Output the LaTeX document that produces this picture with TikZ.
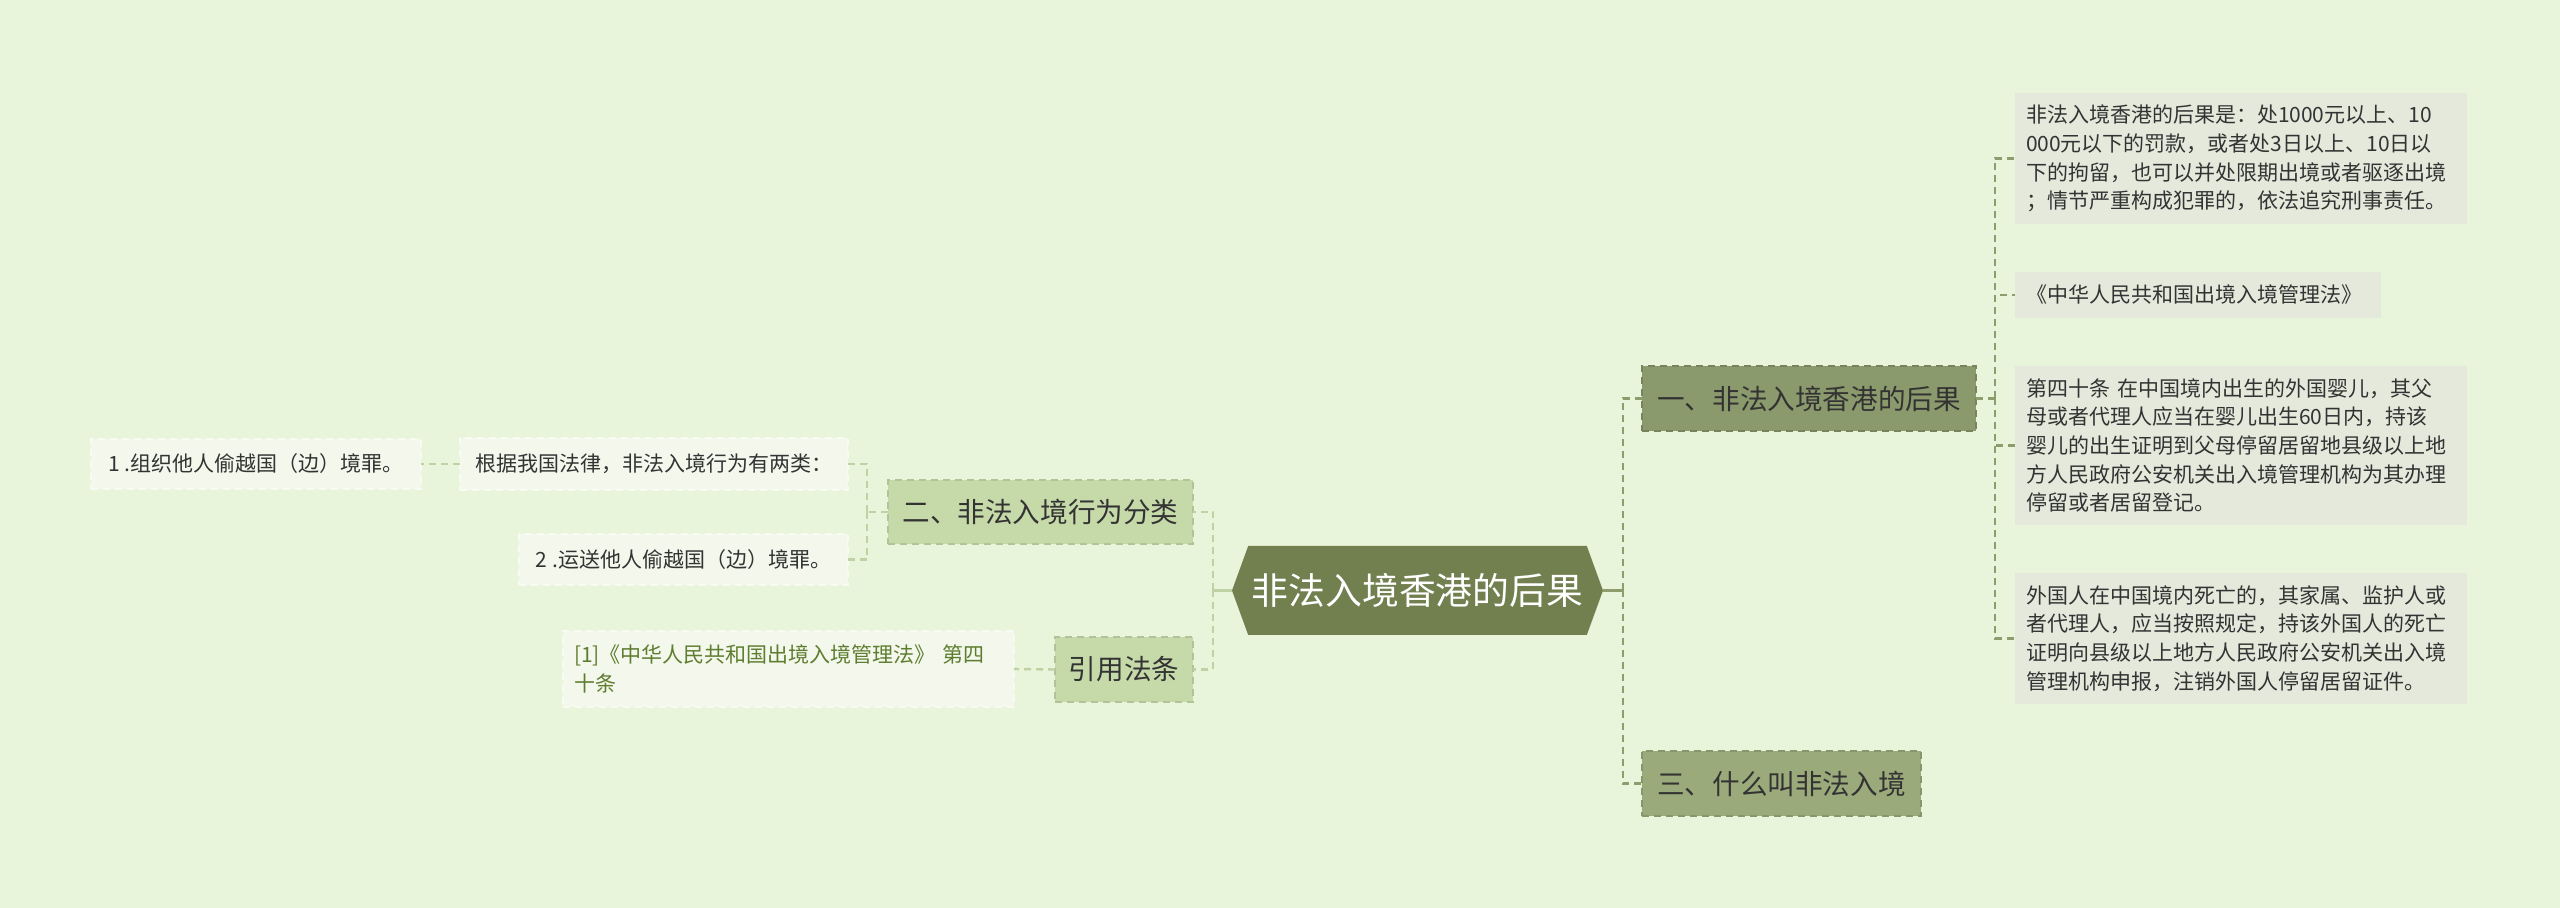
\documentclass[tikz,border=0pt]{standalone}
\usepackage{fontspec}
\setmainfont{Noto Sans CJK SC}
\usepackage{tikz}
\usetikzlibrary{shapes.symbols}
\definecolor{bgcol}{HTML}{E8F5DB}
\definecolor{rootcol}{HTML}{727F4F}
\definecolor{onecol}{HTML}{8B9A6C}
\definecolor{threecol}{HTML}{9BAA7A}
\definecolor{twocol}{HTML}{C6D9A9}
\definecolor{rleafcol}{HTML}{E4E9DC}
\definecolor{lleafcol}{HTML}{F3F7EC}
\definecolor{reftext}{HTML}{5E7D2F}
\definecolor{darkline}{HTML}{8E9D6E}
\definecolor{lightline}{HTML}{BFD2A3}

\begin{document}
\begin{tikzpicture}[x=0.5pt,y=-0.5pt,line width=1.2pt,
  every node/.style={inner sep=0pt,outer sep=0pt,text=black!80},
  dashline/.style={dash pattern=on 3.5pt off 2.5pt}]
		\tikzstyle{topic}=[draw,dashline,line width=1pt,minimum height=32.5pt,font=\fontsize{13.8}{16}\selectfont]
		\tikzstyle{leaf}=[align=left,font=\fontsize{10.5}{14.35}\selectfont]
		\tikzstyle{rleaf}=[leaf,fill=rleafcol,anchor=west,inner xsep=5.5pt,text width=215pt]
		\tikzstyle{lleaf}=[leaf,fill=lleafcol,draw=lleafcol!60!white,line width=1pt,dashline]
		\fill[bgcol] (0,0) rectangle (2560,908);
		\useasboundingbox (0,0) rectangle (2560,908);
		% root and main topics
		\node[signal,signal to=east and west,signal pointer angle=140,fill=rootcol,text=white,
		  minimum width=185.5pt,minimum height=44.5pt,font=\fontsize{18.4}{22}\selectfont] (root) at (1417.5,590.5) {非法入境香港的后果};
		\node[topic,fill=onecol,draw=onecol!85!black,minimum width=167pt] (one) at (1809,398.5) {一、非法入境香港的后果};
		\node[topic,fill=threecol,draw=threecol!88!black,minimum width=139.5pt] (three) at (1781.5,783.5) {三、什么叫非法入境};
		\node[topic,fill=twocol,draw=twocol!90!black,minimum width=152.5pt,minimum height=32pt] (two) at (1040.5,512) {二、非法入境行为分类};
		\node[topic,fill=twocol,draw=twocol!90!black,minimum width=69pt] (cite) at (1124,669.5) {引用法条};
		% right leaves
		\node[rleaf,minimum height=65.5pt] (conseq) at (2015,158.5) {非法入境香港的后果是：处1000元以上、10\\000元以下的罚款，或者处3日以上、10日以\\下的拘留，也可以并处限期出境或者驱逐出境\\；情节严重构成犯罪的，依法追究刑事责任。};
		\node[rleaf,text width=172pt,minimum height=23pt] (lawname) at (2015,295) {《中华人民共和国出境入境管理法》};
		\node[rleaf,minimum height=79.5pt] (art40) at (2015,445.5) {第四十条 在中国境内出生的外国婴儿，其父\\母或者代理人应当在婴儿出生60日内，持该\\婴儿的出生证明到父母停留居留地县级以上地\\方人民政府公安机关出入境管理机构为其办理\\停留或者居留登记。};
		\node[rleaf,minimum height=65.5pt] (death) at (2015,638.5) {外国人在中国境内死亡的，其家属、监护人或\\者代理人，应当按照规定，持该外国人的死亡\\证明向县级以上地方人民政府公安机关出入境\\管理机构申报，注销外国人停留居留证件。};
		% left leaves
		\node[lleaf,minimum width=194pt,minimum height=26pt] (basis) at (654,464) {根据我国法律，非法入境行为有两类：};
		\node[lleaf,minimum width=165pt,minimum height=25pt] (organize) at (256,464) {1 .组织他人偷越国（边）境罪。};
		\node[lleaf,minimum width=164.5pt,minimum height=25.5pt] (transport) at (683.5,559.5) {2 .运送他人偷越国（边）境罪。};
		\node[lleaf,text=reftext,inner xsep=5.5pt,text width=214.5pt,minimum height=38pt] (ref) at (788.5,669) {[1]《中华人民共和国出境入境管理法》 第四\\十条};
		% connectors
		\coordinate (rs) at ([xshift=10pt]root.east);
		\coordinate (ls) at ([xshift=-9.5pt]root.west);
		\coordinate (s1) at ([xshift=9.5pt]one.east);
		\coordinate (s2) at ([xshift=-10.5pt]two.west);
		\draw[darkline] (root.east) -- (rs);
		\draw[lightline] (root.west) -- (ls);
		\draw[darkline,dashline] (rs) |- (one.west) (rs) |- (three.west);
		\draw[darkline,dashline] (one.east) -- (s1)
			(s1) |- (conseq.west) (s1) |- (lawname.west)
			(s1) |- (art40.west) (s1) |- (death.west);
		\draw[lightline,dashline] (ls) |- (two.east) (ls) |- (cite.east);
		\draw[lightline,dashline] (two.west) -- (s2)
			(s2) |- (basis.east) (s2) |- (transport.east);
		\draw[lightline,dashline] (basis.west) -- (organize.east);
		\draw[lightline,dashline] (cite.west) -- (ref.east);
\end{tikzpicture}
\end{document}
